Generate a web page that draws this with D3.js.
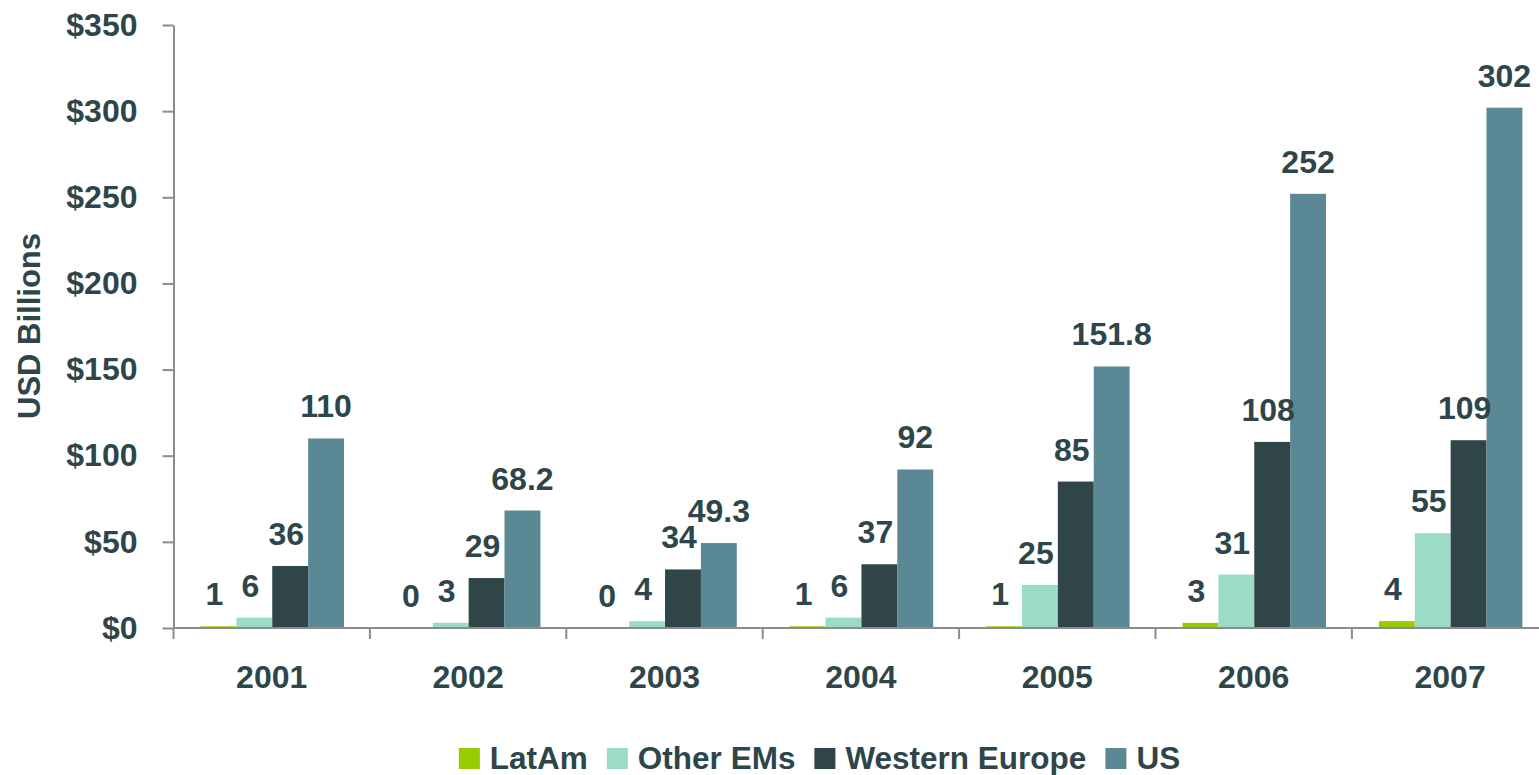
<!DOCTYPE html>
<html>
<head>
<meta charset="utf-8">
<script src="https://cdn.jsdelivr.net/npm/d3@7"></script>
<style>
  html, body { margin: 0; padding: 0; background: #fff; }
  svg { display: block; font-family: "Liberation Sans", Arial, sans-serif; font-weight: bold; }
</style>
</head>
<body>
<svg id="chart" width="1539" height="775"></svg>
<script>
(function () {
  "use strict";

  const years = ["2001", "2002", "2003", "2004", "2005", "2006", "2007"];
  const seriesNames = ["LatAm", "Other EMs", "Western Europe", "US"];
  const latAm = [1, 0, 0, 1, 1, 3, 4];
  const otherEMs = [6, 3, 4, 6, 25, 31, 55];
  const westernEurope = [36, 29, 34, 37, 85, 108, 109];
  const us = [110, 68.2, 49.3, 92, 151.8, 252, 302];
  const yTicks = [0, 50, 100, 150, 200, 250, 300, 350];

  const seriesValues = [latAm, otherEMs, westernEurope, us];
  const colors = ["#99cc00", "#9cdcc7", "#304548", "#5a8995"];
  const textColor = "#2e4649";
  const axisColor = "#8c8c8c";

  const svg = d3.select("#chart");
  const left = 173.5, top = 25, bottom = 628;
  const bandW = 196.4;

  // the plot runs past the right edge of the picture, like the original
  const x0 = d3.scaleBand().domain(years).range([left, left + bandW * years.length]).padding(0);
  const x1 = d3.scaleBand().domain(seriesNames).range([27, 27 + 143.5]).padding(0);
  const y = d3.scaleLinear().domain([0, 350]).range([bottom, top]);

  const rows = years.map((yr, i) => ({
    year: yr,
    values: seriesNames.map((s, k) => ({ series: s, k: k, value: seriesValues[k][i] }))
  }));

  // y axis
  const yAxis = svg.append("g")
    .attr("transform", `translate(${left},0)`)
    .call(d3.axisLeft(y).tickValues(yTicks).tickFormat((d) => "$" + d).tickSizeInner(11).tickSizeOuter(0).tickPadding(25));
  yAxis.select(".domain").attr("stroke", axisColor).attr("stroke-width", 2);
  yAxis.selectAll(".tick line").attr("stroke", axisColor).attr("stroke-width", 2);
  yAxis.selectAll(".tick text")
    .attr("fill", textColor)
    .style("font-size", "32px")
    .style("font-weight", "bold")
    .style("font-family", "'Liberation Sans', Arial, sans-serif");

  // bars
  const groups = svg.append("g").selectAll("g.year")
    .data(rows)
    .join("g")
    .attr("class", "year")
    .attr("transform", (d) => `translate(${x0(d.year)},0)`);

  groups.selectAll("rect")
    .data((d) => d.values)
    .join("rect")
    .attr("x", (d) => x1(d.series))
    .attr("width", x1.bandwidth())
    .attr("y", (d) => y(d.value))
    .attr("height", (d) => bottom - y(d.value))
    .attr("fill", (d) => colors[d.k]);

  groups.selectAll("text")
    .data((d) => d.values)
    .join("text")
    .attr("x", (d) => x1(d.series) + x1.bandwidth() / 2 - (d.k < 3 ? 4 : 0))
    .attr("y", (d) => y(d.value) - 21)
    .attr("text-anchor", "middle")
    .attr("fill", textColor)
    .style("font-size", "32px")
    .text((d) => d.value);

  // x axis: labels centred in bands, ticks on band edges
  const xAxis = svg.append("g")
    .attr("transform", `translate(0,${bottom})`)
    .call(d3.axisBottom(x0).tickSize(0).tickPadding(37));
  xAxis.select(".domain").remove();
  xAxis.selectAll(".tick text")
    .attr("fill", textColor)
    .style("font-size", "32px")
    .style("font-weight", "bold")
    .style("font-family", "'Liberation Sans', Arial, sans-serif");

  svg.append("line")
    .attr("x1", left).attr("x2", 1539)
    .attr("y1", bottom).attr("y2", bottom)
    .attr("stroke", axisColor).attr("stroke-width", 2);

  svg.append("g").selectAll("line")
    .data(years)
    .join("line")
    .attr("x1", (d) => x0(d)).attr("x2", (d) => x0(d))
    .attr("y1", bottom).attr("y2", bottom + 11)
    .attr("stroke", axisColor).attr("stroke-width", 2);

  // y title
  svg.append("text")
    .attr("transform", "translate(40,326) rotate(-90)")
    .attr("text-anchor", "middle")
    .attr("fill", textColor)
    .style("font-size", "31px")
    .text("USD Billions");

  // legend
  const legend = svg.append("g");
  const items = legend.selectAll("g")
    .data(seriesNames)
    .join("g");
  items.append("rect")
    .attr("width", 21).attr("height", 21)
    .attr("y", 748)
    .attr("fill", (d, i) => colors[i]);
  items.append("text")
    .attr("x", 31)
    .attr("y", 769)
    .attr("fill", textColor)
    .style("font-size", "31.5px")
    .text((d) => d);

  let cursor = 0;
  const offsets = [];
  items.each(function () {
    const w = d3.select(this).select("text").node().getComputedTextLength();
    offsets.push(cursor);
    cursor += 31 + w + 19;
  });
  const total = cursor - 19;
  const start = 819.5 - total / 2;
  items.attr("transform", (d, i) => `translate(${start + offsets[i]},0)`);
})();
</script>
</body>
</html>
